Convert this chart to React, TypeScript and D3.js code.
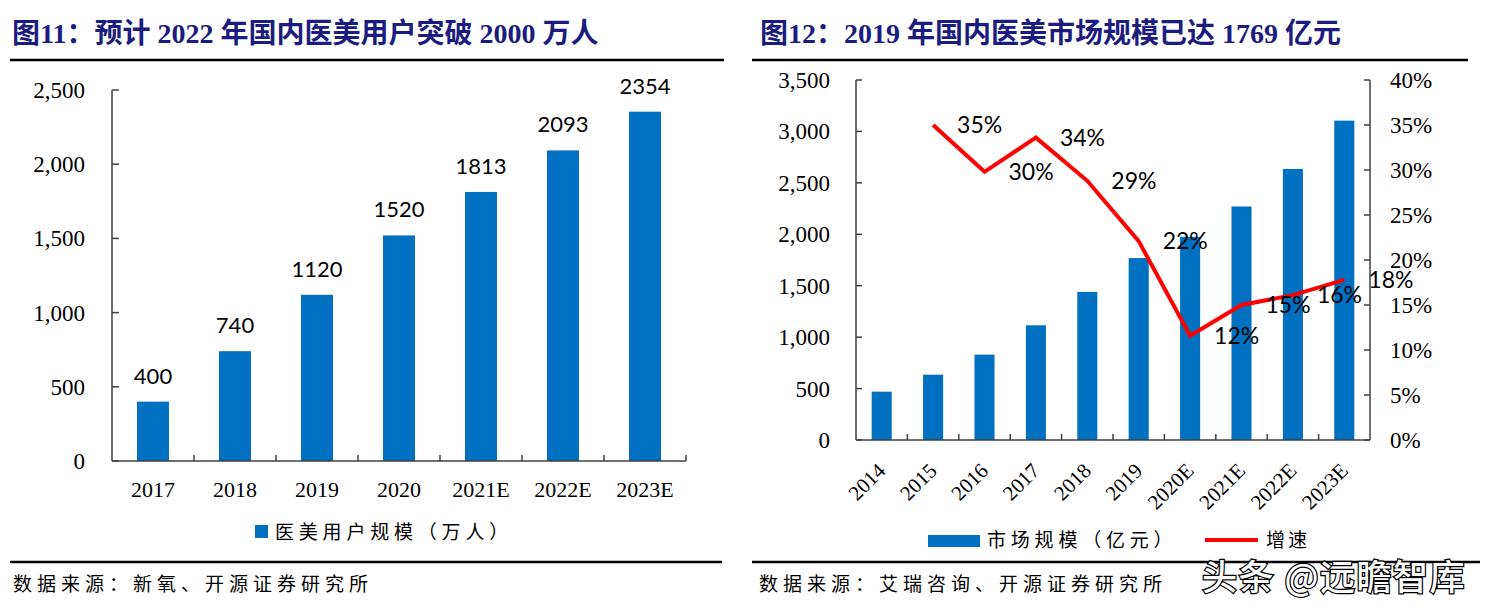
import React from "react";
import * as d3 from "d3";

// ---------- data: chart 1 ----------
const usersYears = ["2017", "2018", "2019", "2020", "2021E", "2022E", "2023E"];
const usersValues = [400, 740, 1120, 1520, 1813, 2093, 2354];
const usersTicks = [0, 500, 1000, 1500, 2000, 2500];

// ---------- data: chart 2 ----------
const marketYears = ["2014", "2015", "2016", "2017", "2018", "2019", "2020E", "2021E", "2022E", "2023E"];
const marketValues = [470, 635, 830, 1115, 1440, 1769, 1975, 2270, 2635, 3105];
const growthYears = ["2015", "2016", "2017", "2018", "2019", "2020E", "2021E", "2022E", "2023E"];
const growthValues = [35.0, 29.8, 33.6, 28.8, 22.1, 11.6, 15.0, 16.1, 17.8];
const growthLabels = ["35%", "30%", "34%", "29%", "22%", "12%", "15%", "16%", "18%"];
const marketTicks = [0, 500, 1000, 1500, 2000, 2500, 3000, 3500];
const growthTicks = [0, 5, 10, 15, 20, 25, 30, 35, 40];

const title1 = "图11：预计 2022 年国内医美用户突破 2000 万人";
const title2 = "图12：2019 年国内医美市场规模已达 1769 亿元";
const legend1 = "医美用户规模（万人）";
const legend2a = "市场规模（亿元）";
const legend2b = "增速";
const source1 = "数据来源：新氧、开源证券研究所";
const source2 = "数据来源：艾瑞咨询、开源证券研究所";
const watermark = "头条 @远瞻智库";

const BLUE = "#0070C0";
const RED = "#FF0000";
const NAVY = "#1C1C80";
const AXIS = "#404040";
const SERIF = "'Liberation Serif', 'Times New Roman', serif";
const CJK = "'Noto Sans CJK SC', sans-serif";
const TITLE_FONT = "'Liberation Serif', 'Noto Sans CJK SC', serif";
const SANS = "Lato, 'Open Sans', sans-serif";

const fmt = d3.format(",");

function Chart1() {
  const x = d3.scaleBand<string>().domain(usersYears).range([112, 686]).paddingInner(0.61).paddingOuter(0.305);
  const y = d3.scaleLinear().domain([0, 2500]).range([461, 90]);
  const step = x.step();
  return (
    <g>
      <text x={12} y={43} fill={NAVY} fontFamily={TITLE_FONT} fontWeight="bold" fontSize={28}>{title1}</text>
      <line x1={10} x2={724} y1={60} y2={60} stroke="#000" strokeWidth={2.5} />
      {/* y axis */}
      <line x1={112} x2={112} y1={y(2500)} y2={y(0)} stroke={AXIS} strokeWidth={1.5} />
      {usersTicks.map((t) => (
        <g key={t}>
          <line x1={112} x2={119} y1={y(t)} y2={y(t)} stroke={AXIS} strokeWidth={1.5} />
          <text x={85} y={y(t) + 8} textAnchor="end" fontFamily={SERIF} fontSize={23} fill="#000">{fmt(t)}</text>
        </g>
      ))}
      {/* bars */}
      {usersYears.map((c, i) => (
        <g key={c}>
          <rect x={x(c)} y={y(usersValues[i])} width={x.bandwidth()} height={y(0) - y(usersValues[i])} fill={BLUE} />
          <text x={x(c)! + x.bandwidth() / 2} y={y(usersValues[i]) - 18} textAnchor="middle" fontFamily={SANS} fontSize={22} fill="#000">{usersValues[i]}</text>
          <text x={x(c)! + x.bandwidth() / 2} y={497} textAnchor="middle" fontFamily={SERIF} fontSize={22} fill="#000">{c}</text>
        </g>
      ))}
      {/* x axis */}
      <line x1={112} x2={686} y1={y(0)} y2={y(0)} stroke={AXIS} strokeWidth={1.5} />
      {d3.range(1, usersYears.length + 1).map((i) => (
        <line key={i} x1={112 + step * i} x2={112 + step * i} y1={y(0)} y2={y(0) - 6} stroke={AXIS} strokeWidth={1.5} />
      ))}
      {/* legend */}
      <rect x={255} y={525} width={13} height={13} fill={BLUE} />
      <text x={275} y={539} fontFamily={CJK} fontSize={19} letterSpacing={4.8} fill="#000">{legend1}</text>
      <line x1={10} x2={722} y1={562} y2={562} stroke="#000" strokeWidth={2.5} />
      <text x={13} y={591} fontFamily={CJK} fontSize={19} letterSpacing={5} fill="#000">{source1}</text>
    </g>
  );
}

function Chart2() {
  const x = d3.scaleBand<string>().domain(marketYears).range([856, 1370]).paddingInner(0.61).paddingOuter(0.305);
  const y = d3.scaleLinear().domain([0, 3500]).range([440, 80]);
  const y2 = d3.scaleLinear().domain([0, 40]).range([440, 80]);
  const step = x.step();
  const cx = (c: string) => x(c)! + x.bandwidth() / 2;
  const line = d3
    .line<number>()
    .x((_, i) => cx(growthYears[i]))
    .y((v) => y2(v));
  return (
    <g>
      <text x={760} y={43} fill={NAVY} fontFamily={TITLE_FONT} fontWeight="bold" fontSize={28}>{title2}</text>
      <line x1={752} x2={1468} y1={60} y2={60} stroke="#000" strokeWidth={2.5} />
      {/* left axis */}
      <line x1={856} x2={856} y1={y(3500)} y2={y(0)} stroke={AXIS} strokeWidth={1.5} />
      {marketTicks.map((t) => (
        <g key={t}>
          <line x1={856} x2={862} y1={y(t)} y2={y(t)} stroke={AXIS} strokeWidth={1.5} />
          <text x={830} y={y(t) + 8} textAnchor="end" fontFamily={SERIF} fontSize={23} fill="#000">{fmt(t)}</text>
        </g>
      ))}
      {/* right axis */}
      <line x1={1370} x2={1370} y1={y2(40)} y2={y2(0)} stroke={AXIS} strokeWidth={1.5} />
      {growthTicks.map((t) => (
        <g key={t}>
          <line x1={1364} x2={1370} y1={y2(t)} y2={y2(t)} stroke={AXIS} strokeWidth={1.5} />
          <text x={1390} y={y2(t) + 8} textAnchor="start" fontFamily={SERIF} fontSize={23} fill="#000">{t}%</text>
        </g>
      ))}
      {/* bars */}
      {marketYears.map((c, i) => (
        <g key={c}>
          <rect x={x(c)} y={y(marketValues[i])} width={x.bandwidth()} height={y(0) - y(marketValues[i])} fill={BLUE} />
          <text transform={`translate(${cx(c) + 5},${472}) rotate(-45)`} textAnchor="end" fontFamily={SERIF} fontSize={21} fill="#000">{c}</text>
        </g>
      ))}
      {/* x axis */}
      <line x1={856} x2={1370} y1={y(0)} y2={y(0)} stroke={AXIS} strokeWidth={1.5} />
      {d3.range(1, marketYears.length).map((i) => (
        <line key={i} x1={856 + step * i} x2={856 + step * i} y1={y(0)} y2={y(0) - 6} stroke={AXIS} strokeWidth={1.5} />
      ))}
      {/* growth line */}
      <path d={line(growthValues)!} fill="none" stroke={RED} strokeWidth={4} strokeLinejoin="miter" />
      {growthValues.map((v, i) => (
        <text key={i} x={cx(growthYears[i]) + 24} y={y2(v) + 8} fontFamily={SANS} fontSize={23} fill="#000">{growthLabels[i]}</text>
      ))}
      {/* legend */}
      <rect x={928} y={535} width={52} height={12} fill={BLUE} />
      <text x={987} y={547} fontFamily={CJK} fontSize={19} letterSpacing={4.8} fill="#000">{legend2a}</text>
      <line x1={1205} x2={1258} y1={540} y2={540} stroke={RED} strokeWidth={4} />
      <text x={1266} y={547} fontFamily={CJK} fontSize={19} letterSpacing={3} fill="#000">{legend2b}</text>
      <line x1={752} x2={1480} y1={562} y2={562} stroke="#000" strokeWidth={2.5} />
      <text x={759} y={591} fontFamily={CJK} fontSize={19} letterSpacing={5} fill="#000">{source2}</text>
      <text x={1202} y={590} fontFamily={CJK} fontSize={35} letterSpacing={1.5} fill="#fff" stroke="#000" strokeWidth={2.5} paintOrder="stroke" fontWeight={500}>{watermark}</text>
    </g>
  );
}

export default function App() {
  return (
    <svg width={1494} height={612} style={{ position: "absolute", left: 0, top: 0, background: "#fff" }}>
      <rect width={1494} height={612} fill="#fff" />
      <Chart1 />
      <Chart2 />
    </svg>
  );
}
